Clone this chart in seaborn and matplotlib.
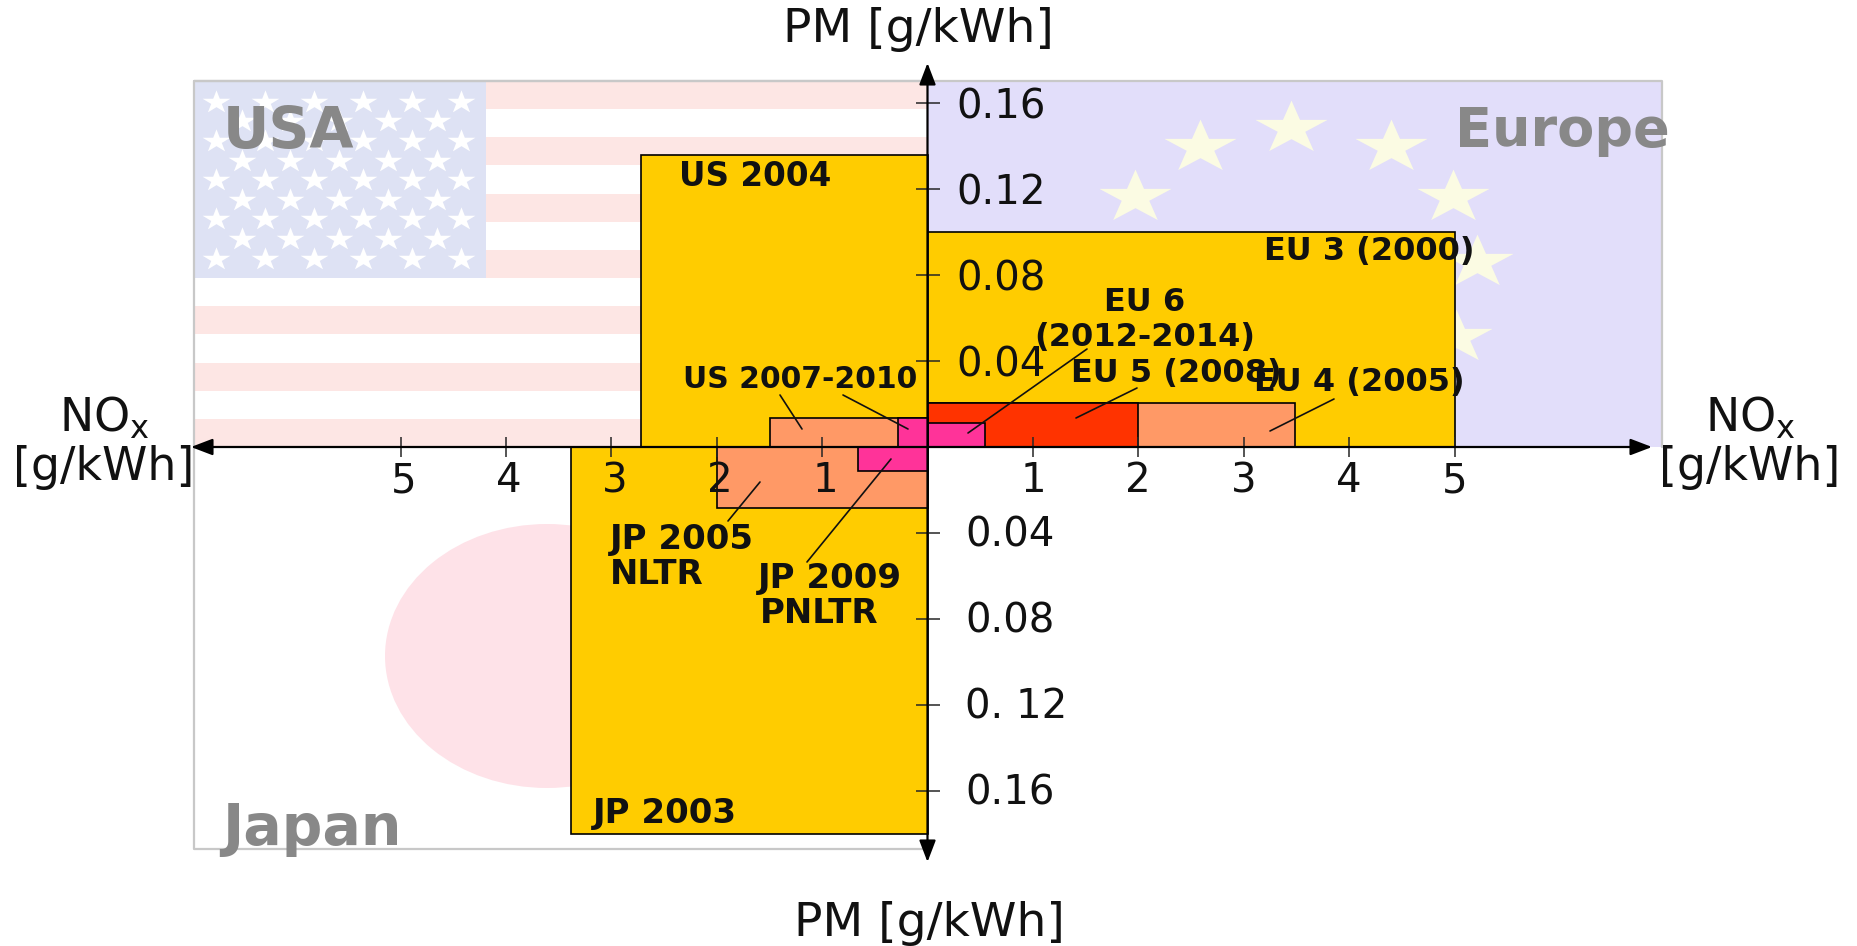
import numpy as np
import pandas as pd
import seaborn as sns
import matplotlib.pyplot as plt
from matplotlib.patches import Ellipse, Rectangle
from matplotlib.transforms import ScaledTranslation

# limits: label, nox, pm (signed by quadrant: +x EU, -x US/JP, +y EU/US, -y JP)
yellow_names = ["US 2004", "EU 3", "JP 2003"]
yellow_nox = [-2.72, 5.0, -3.385]
yellow_pm = [0.1357, 0.100, -0.180]

orange_names = ["EU 4", "US 2007", "JP 2005"]
orange_nox = [3.49, -1.49, -2.0]
orange_pm = [0.0206, 0.0135, -0.0285]

red_names = ["EU 5"]
red_nox = [2.0]
red_pm = [0.0206]

pink_names = ["EU 6", "US 2010", "JP 2009"]
pink_nox = [0.55, -0.283, -0.66]
pink_pm = [0.0112, 0.0135, -0.0112]

x_ticks = [-5, -4, -3, -2, -1, 1, 2, 3, 4, 5]
x_tick_labels = ["5", "4", "3", "2", "1", "1", "2", "3", "4", "5"]
y_ticks = [0.16, 0.12, 0.08, 0.04, -0.04, -0.08, -0.12, -0.16]
y_tick_labels = ["0.16", "0.12", "0.08", "0.04", "0.04", "0.08", "0. 12", "0.16"]

# picture scale of the original
X0, Y0 = 927.5, 447
SX, SY = 105.4, 2152


def dx(px):
    return (px - X0) / SX


def dy(py):
    return (Y0 - py) / SY


def star(stretch):
    ang = np.pi / 2 + np.arange(10) * np.pi / 5
    rad = np.where(np.arange(10) % 2 == 0, 1.0, 0.382)
    return np.column_stack([stretch * rad * np.cos(ang), rad * np.sin(ang)])


sns.set_theme(style="white")
plt.rcParams["font.family"] = ["DejaVu Sans"]

fig = plt.figure(figsize=(18.58, 9.46), dpi=100)
ax = fig.add_axes([0, 0, 1, 1])
ax.set_xlim(dx(0), dx(1858))
ax.set_ylim(dy(946), dy(0))
ax.set_axisbelow(False)

# Background: USA flag
left, right, top, bottom = dx(194), dx(1662), dy(81), dy(849)
stripe = (dy(Y0) - top) / 13
for i in range(0, 13, 2):
    ax.add_patch(Rectangle((left, top + i * stripe), -left, stripe, color="#FDE6E4", lw=0, zorder=0.2))
ax.add_patch(Rectangle((left, dy(278)), dx(486) - left, top - dy(278), color="#DEE2F4", lw=0, zorder=0.3))

star_y = dy(np.linspace(101.7, 258.7, 9))
long_x = dx(np.linspace(216, 461, 6))
short_x = dx(np.linspace(241.6, 437, 5))
us_x, us_y = [], []
for i, yy in enumerate(star_y):
    row = long_x if i % 2 == 0 else short_x
    us_x += list(row)
    us_y += [yy] * len(row)
sns.scatterplot(x=us_x, y=us_y, marker=star(1.2), s=400, color="white", linewidth=0, zorder=0.4, ax=ax)

# Background: Europe flag
ax.add_patch(Rectangle((0, 0), right, top, color="#E2DEFA", lw=0, zorder=0.2))
eu_x = dx(np.array([1135, 1200, 1291, 1391, 1453, 1477, 1456]))
eu_y = dy(np.array([197, 147, 128, 147, 197, 262, 337]))
sns.scatterplot(x=eu_x, y=eu_y, marker=star(1.36), s=2700, color="#FBFBE3", linewidth=0, zorder=0.4, ax=ax)

# Background: Japan flag
ax.add_patch(Ellipse((dx(547), dy(656)), 2 * 162 / SX, 2 * 132 / SY, color="#FEE2E8", lw=0, zorder=0.3))

# Panel outline
ax.plot([left, right, right], [top, top, 0], color="#C8C8C8", lw=1.6, zorder=0.5)
ax.plot([0, left, left, 0], [top, top, bottom, bottom], color="#C8C8C8", lw=1.6, zorder=0.5)

# Limit boxes
groups = [
    (yellow_nox, yellow_pm, "#FFCC00", 1.0),
    (orange_nox, orange_pm, "#FF9966", 1.2),
    (red_nox, red_pm, "#FF3300", 1.3),
    (pink_nox, pink_pm, "#FF3399", 1.4),
]
for nox, pm, col, z in groups:
    ax.bar(0, pm, width=nox, align="edge", color=col, edgecolor="black", linewidth=1.2, zorder=z)

# Axes through the origin
ax.spines[["left", "top"]].set_visible(False)
ax.spines["bottom"].set_position(("data", 0))
ax.spines["right"].set_position(("data", 0))
ax.spines["bottom"].set_visible(False)
ax.spines["right"].set_visible(False)
ax.yaxis.tick_right()
ax.set_xticks(x_ticks, x_tick_labels)
ax.set_yticks(y_ticks, y_tick_labels)
ax.tick_params(axis="x", direction="inout", length=14.4, width=1.1, pad=3, labelsize=29, labelcolor="#111111", bottom=True)
ax.tick_params(axis="y", direction="inout", length=17.3, width=1.1, pad=12, labelsize=29, labelcolor="#111111", right=True)

for lab, val in zip(ax.get_yticklabels(), y_ticks):
    if val < 0:
        lab.set_transform(lab.get_transform() + ScaledTranslation(9 / 100, 2 / 100, fig.dpi_scale_trans))
for lab, val in zip(ax.get_xticklabels(), x_ticks):
    if val < 0:
        lab.set_transform(lab.get_transform() + ScaledTranslation(3 / 100, 0, fig.dpi_scale_trans))

arrow = dict(arrowstyle="<|-|>,head_length=1.1,head_width=0.42", color="black", lw=1.6, shrinkA=0, shrinkB=0, mutation_scale=12)
ax.annotate("", xy=(dx(191), 0), xytext=(dx(1652), 0), arrowprops=arrow, zorder=3)
ax.annotate("", xy=(0, dy(63)), xytext=(0, dy(862)), arrowprops=arrow, zorder=3)

# Leader lines
leaders = [
    ((780, 395), (802, 429)),
    ((843, 395), (908, 429)),
    ((968, 433), (1087, 349)),
    ((1137, 388), (1076, 418)),
    ((1334, 399), (1270, 431)),
    ((760, 482), (728, 521)),
    ((891, 459), (807, 562)),
]
for a, b in leaders:
    seg = pd.DataFrame({"x": [dx(a[0]), dx(b[0])], "y": [dy(a[1]), dy(b[1])]})
    sns.lineplot(data=seg, x="x", y="y", color="#111111", lw=1.2, estimator=None, sort=False, zorder=4, ax=ax)
ax.set_xlabel("")
ax.set_ylabel("")

# Box labels
labels = [
    ("US 2004", 679, 186, 23.5), ("US 2007-2010", 683, 388, 21.5),
    ("EU 3 (2000)", 1264, 260, 23), ("EU 5 (2008)", 1071, 382, 23), ("EU 4 (2005)", 1254, 391, 23),
    ("JP 2005", 610, 549, 24.5), ("NLTR", 610, 584, 24.5), ("JP 2009", 758, 588, 24.5), ("PNLTR", 760, 623, 24.5),
    ("JP 2003", 593, 823, 24.5),
]
for txt, px, py, fs in labels:
    ax.text(dx(px), dy(py), txt, fontsize=fs, fontweight="bold", color="#111111", va="baseline", zorder=5)
ax.text(dx(1145), dy(311), "EU 6", fontsize=23, fontweight="bold", color="#111111", ha="center", va="baseline", zorder=5)
ax.text(dx(1145), dy(346), "(2012-2014)", fontsize=23, fontweight="bold", color="#111111", ha="center", va="baseline", zorder=5)

# Region names
for txt, px, py, fs in [("USA", 223, 148, 41), ("Europe", 1455, 146, 39), ("Japan", 222, 845, 41)]:
    ax.text(dx(px), dy(py), txt, fontsize=fs, fontweight="bold", color="#888888", va="baseline", zorder=5)

# Axis titles
ax.text(dx(918), dy(30), "PM [g/kWh]", fontsize=34, color="#111111", ha="center", va="center", zorder=5)
ax.text(dx(929), dy(923), "PM [g/kWh]", fontsize=34, color="#111111", ha="center", va="center", zorder=5)
for cx in [104, 1750]:
    ax.text(dx(cx), dy(418), "NO$_{\\mathregular{x}}$", fontsize=33, color="#111111", ha="center", va="center", zorder=5)
    ax.text(dx(cx), dy(467), "[g/kWh]", fontsize=33, color="#111111", ha="center", va="center", zorder=5)

plt.savefig("out.png", dpi=100)
